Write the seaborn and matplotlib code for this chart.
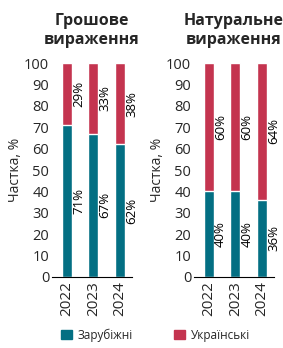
import matplotlib
matplotlib.use("Agg")
import matplotlib.pyplot as plt
import seaborn as sns
import pandas as pd
import numpy as np
from matplotlib.patches import Patch

years = ["2022", "2023", "2024"]
money_foreign = [71, 67, 62]
money_ukr = [29, 33, 38]
nat_foreign = [40, 40, 36]
nat_ukr = [60, 60, 64]
titles = ["Грошове\nвираження", "Натуральне\nвираження"]
legend_labels = ["Зарубіжні", "Українські"]
ylabel = "Частка, %"

teal = "#036f83"
red = "#c4344f"

sns.set_theme(style="white")
plt.rcParams['font.family'] = ['Open Sans', 'DejaVu Sans']

fig = plt.figure(figsize=(2.83, 3.48), dpi=100)
axes = [fig.add_axes([52/283, 1-277/348, 80/283, 214/348]),
        fig.add_axes([194/283, 1-277/348, 80/283, 214/348])]

for ax, title, fr, uk in zip(axes, titles, [money_foreign, nat_foreign], [money_ukr, nat_ukr]):
    df = pd.DataFrame({"year": years, "foreign": fr, "ukr": uk})
    df["total"] = df["foreign"] + df["ukr"]
    sns.barplot(data=df, x="year", y="total", color=red, width=0.38, ax=ax, saturation=1)
    sns.barplot(data=df, x="year", y="foreign", color=teal, width=0.38, ax=ax, saturation=1)
    for i, (f, u) in enumerate(zip(fr, uk)):
        ax.text(i + 0.2, f / 2, f"{f}%", rotation=90, ha="left", va="center", fontsize=9.5, color="black")
        ax.text(i + 0.2, f + u / 2, f"{u}%", rotation=90, ha="left", va="center", fontsize=9.5, color="black")
    ax.set_xlim(-0.55, 2.45)
    ax.set_ylim(0, 100)
    ax.set_yticks(range(0, 101, 10))
    ax.tick_params(axis="y", labelsize=10.5, length=0, pad=2)
    ax.tick_params(axis="x", labelsize=11, length=0, pad=3, labelrotation=90)
    ax.set_xlabel("")
    ax.set_ylabel(ylabel, fontsize=10, labelpad=1)
    for s in ["top", "right", "left"]:
        ax.spines[s].set_visible(False)
    ax.spines["bottom"].set_color("black")
    ax.spines["bottom"].set_linewidth(0.8)
    ax.set_title(title, fontsize=11.5, fontweight="bold", pad=14, linespacing=1.25)

fig.legend(handles=[Patch(color=teal), Patch(color=red)], labels=legend_labels,
           loc="lower center", bbox_to_anchor=(0.55, -0.012), ncol=2, frameon=False,
           fontsize=8.5, handlelength=0.9, handleheight=0.9, columnspacing=3.5, handletextpad=0.5)

fig.savefig("out.png", dpi=100)
